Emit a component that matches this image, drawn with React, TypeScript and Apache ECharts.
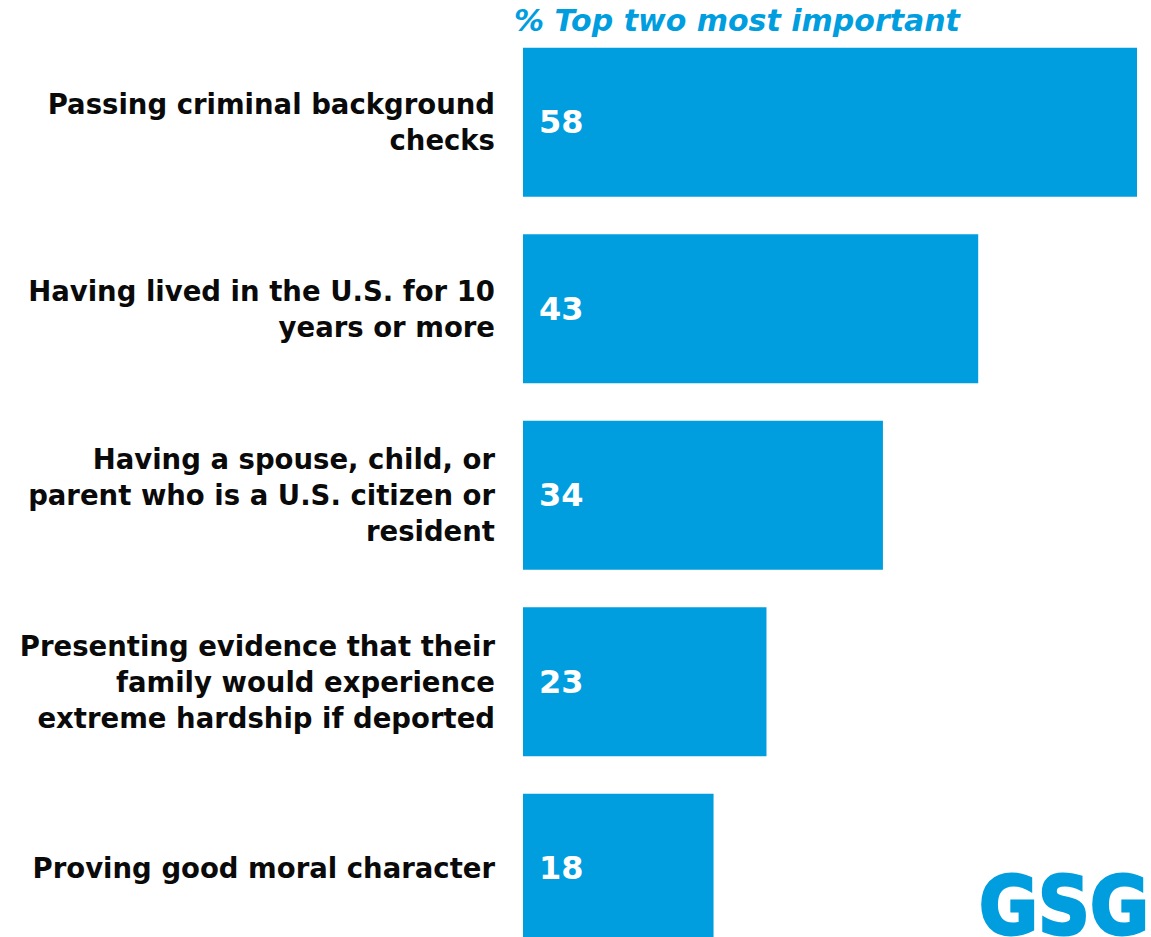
import React, { useEffect, useRef } from "react";
import * as echarts from "echarts";

const categories = [
  "Passing criminal background\nchecks",
  "Having lived in the U.S. for 10\nyears or more",
  "Having a spouse, child, or\nparent who is a U.S. citizen or\nresident",
  "Presenting evidence that their\nfamily would experience\nextreme hardship if deported",
  "Proving good moral character",
];
const values = [58, 43, 34, 23, 18];
const title = "% Top two most important";
const logoText = "GSG";

const BLUE = "#009EDF";
const FONT = "'DejaVu Sans'";

export default function App() {
  const ref = useRef<HTMLDivElement>(null);
  useEffect(() => {
    document.body.style.margin = "0";
    const chart = echarts.init(ref.current!, null, { renderer: "svg" });
    chart.setOption({
      animation: false,
      backgroundColor: "#ffffff",
      grid: { left: 523, top: 29, width: 614, height: 932.5, containLabel: false },
      xAxis: {
        type: "value",
        min: 0,
        max: "dataMax",
        show: false,
      },
      yAxis: {
        type: "category",
        inverse: true,
        data: categories,
        axisLine: { show: false },
        axisTick: { show: false },
        axisLabel: {
          margin: 28,
          align: "right",
          color: "#0a0a0a",
          fontFamily: "DejaVu Sans",
          fontWeight: "bold",
          fontSize: 27.5,
          lineHeight: 36,
        },
      },
      series: [
        {
          type: "bar",
          data: values,
          barCategoryGap: "20%",
          itemStyle: { color: BLUE },
          label: {
            show: true,
            position: "insideLeft",
            distance: 16,
            color: "#ffffff",
            fontFamily: "DejaVu Sans",
            fontWeight: "bold",
            fontSize: 32,
          },
        },
      ],
      graphic: [
        {
          type: "text",
          left: 514,
          top: 5,
          style: {
            text: title,
            fill: BLUE,
            font: `italic bold 30px ${FONT}`,
          },
        },
        {
          type: "text",
          x: 979,
          y: 866,
          scaleX: 0.9,
          style: {
            text: logoText,
            fill: BLUE,
            stroke: BLUE,
            lineWidth: 3,
            font: `bold 80px ${FONT}`,
          },
        },
      ],
    });
    return () => chart.dispose();
  }, []);
  return (
    <div style={{ width: 1151, height: 937, overflow: "hidden" }}>
      <div ref={ref} style={{ width: 1151, height: 970 }} />
    </div>
  );
}
